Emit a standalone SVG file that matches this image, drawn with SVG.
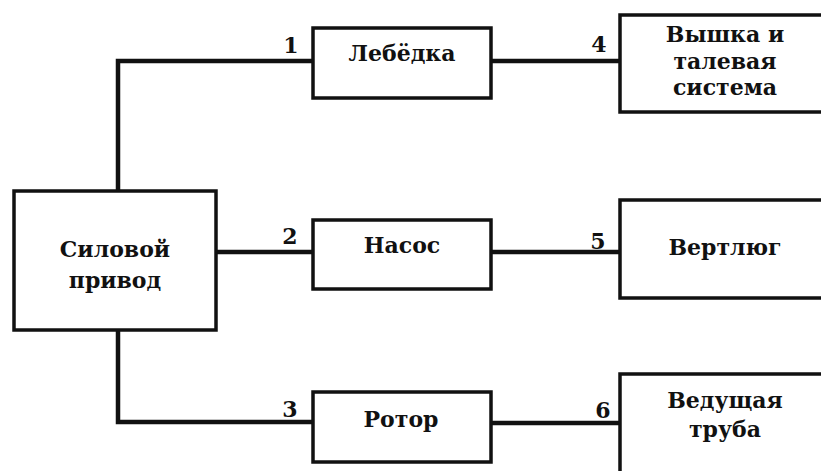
<svg xmlns="http://www.w3.org/2000/svg" width="821" height="471" viewBox="0 0 821 471">
  <style>
    .box { fill: #ffffff; stroke: #111111; stroke-width: 3.5; }
    .wire { fill: none; stroke: #111111; stroke-width: 4.5; stroke-linejoin: miter; }
    .lbl { font-size: 22px; }
    .num { font-size: 22px; }
  </style>
  <rect width="821" height="471" fill="#ffffff"/>

  <!-- connectors -->
  <g id="connectors">
    <polyline class="wire" points="313,61 118,61 118,191"/>
    <line class="wire" x1="216" y1="252" x2="313" y2="252"/>
    <polyline class="wire" points="118,330 118,422 313,422"/>
    <line class="wire" x1="491" y1="61" x2="620" y2="61"/>
    <line class="wire" x1="491" y1="252" x2="620" y2="252"/>
    <line class="wire" x1="491" y1="423" x2="620" y2="423"/>
  </g>

  <g font-family="DejaVu Serif, Liberation Serif, serif" font-weight="bold" fill="#111111" text-anchor="middle">
    <g id="numbers">
      <text class="num" x="291" y="53">1</text>
      <text class="num" x="290" y="244">2</text>
      <text class="num" x="290" y="417">3</text>
      <text class="num" x="599" y="52">4</text>
      <text class="num" x="598" y="249">5</text>
      <text class="num" x="603" y="418">6</text>
    </g>

    <g id="power-drive">
      <rect class="box" x="14" y="191" width="202" height="139"/>
      <text class="lbl" x="115" y="257">Силовой</text>
      <text class="lbl" x="115" y="288">привод</text>
    </g>

    <g id="winch">
      <rect class="box" x="313" y="28" width="178" height="70"/>
      <text class="lbl" x="402" y="61">Лебёдка</text>
    </g>

    <g id="pump">
      <rect class="box" x="313" y="220" width="178" height="69"/>
      <text class="lbl" x="402" y="253">Насос</text>
    </g>

    <g id="rotor">
      <rect class="box" x="313" y="392" width="178" height="70"/>
      <text class="lbl" x="401" y="427">Ротор</text>
    </g>

    <g id="derrick">
      <rect class="box" x="620" y="15" width="215" height="97"/>
      <text class="lbl" x="725" y="42">Вышка и</text>
      <text class="lbl" x="725" y="69">талевая</text>
      <text class="lbl" x="725" y="95">система</text>
    </g>

    <g id="swivel">
      <rect class="box" x="620" y="200" width="215" height="98"/>
      <text class="lbl" x="725" y="255">Вертлюг</text>
    </g>

    <g id="kelly">
      <rect class="box" x="620" y="374" width="215" height="110"/>
      <text class="lbl" x="725" y="408">Ведущая</text>
      <text class="lbl" x="725" y="437">труба</text>
    </g>
  </g>
</svg>
